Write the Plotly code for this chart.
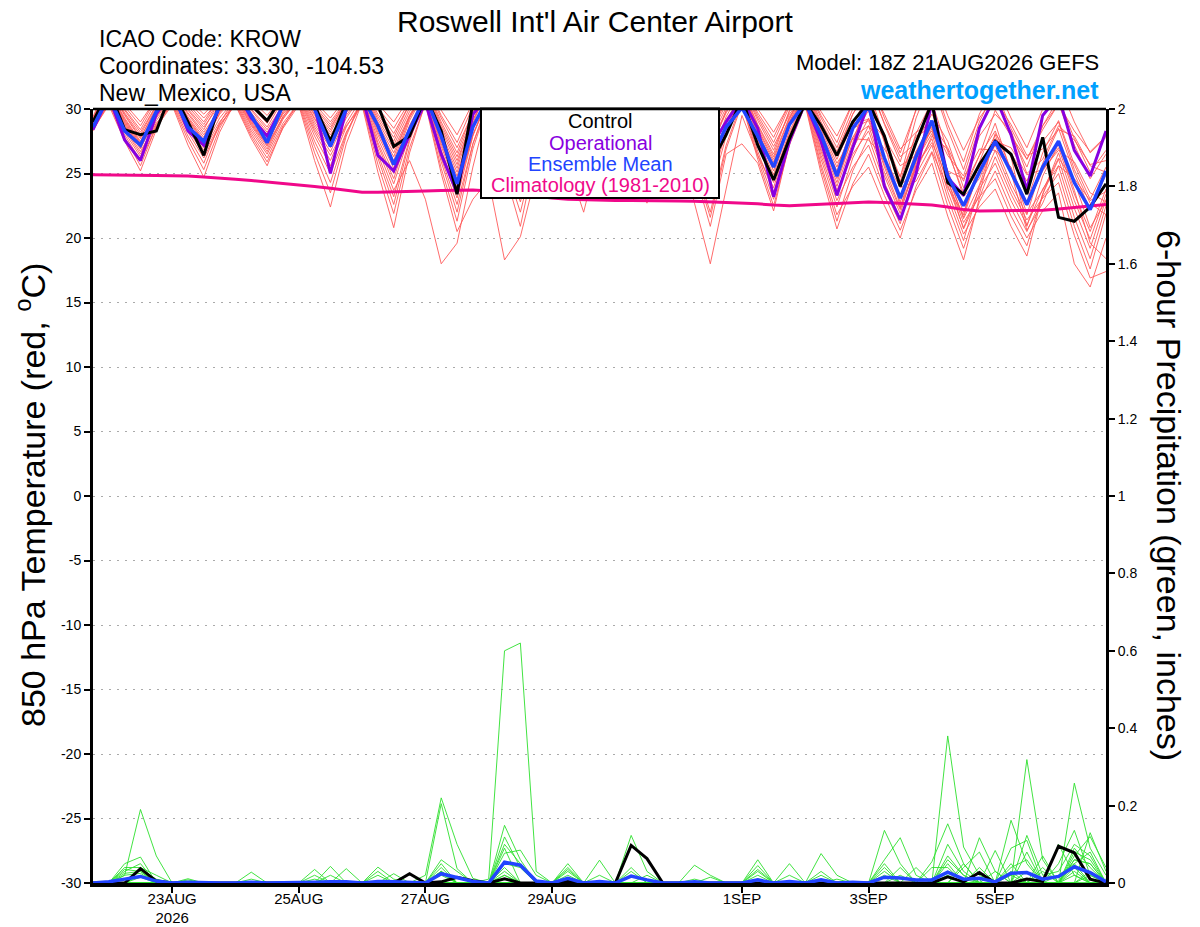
import plotly.graph_objects as go
import pandas as pd

# ---------------- time axis (6-hourly, GEFS 18Z 21AUG2026 run) ----------------
run_start = "2026-08-21 18:00"
n_steps = 65
times = pd.date_range(run_start, periods=n_steps, freq="6h")

# ---------------- 850 hPa temperature (deg C) ----------------
temp_members = [
    [28.4, 30.3,27.5,25.2,28.4, 30.6,28.2,26.2,28.7, 30.4,27.9,25.9,28.5, 30.3,26.0,22.4,27.3, 30.5,26.2,22.6,27.5, 30.8,26.6,23.1,27.9, 31.1,28.0,25.5,29.0, 31.3,28.5,26.3,29.4, 31.5,28.7,26.4,29.1, 30.9,27.4,24.5,28.5, 31.2,28.1,25.5,29.2, 31.7,28.6,26.1,28.9, 29.2,27.8,25.6,26.4, 28.9,27.0,24.4,27.9, 29.6,28.3,25.0,26.1, 28.7,27.6,25.7,26.0],
    [29.0, 30.8,28.5,26.7,28.9, 30.4,27.6,25.3,28.5, 30.7,28.5,26.7,29.2, 30.9,28.4,26.4,28.7, 30.3,25.1,20.8,26.6, 30.5,25.4,21.3,26.9, 30.6,26.3,22.8,27.3, 30.3,25.7,22.0,27.0, 30.4,26.5,23.3,28.0, 31.2,28.2,25.8,28.6, 30.5,26.4,23.0,27.7, 30.8,26.7,23.3,26.9, 29.3,25.7,22.8,26.0, 28.1,24.1,20.8,23.8, 25.8,22.9,20.5,23.2, 25.0,20.9,17.6,21.9],
    [28.8, 31.3,29.1,27.3,29.8, 31.5,29.6,28.0,29.9, 31.1,29.0,27.3,29.8, 31.4,29.3,27.6,30.0, 31.6,29.0,26.9,29.5, 31.2,27.5,24.5,28.9, 31.8,29.5,27.7,30.3, 32.0,29.8,28.0,30.2, 31.7,29.1,26.9,30.0, 32.1,30.2,28.6,30.6, 31.9,29.3,27.1,29.6, 31.3,27.8,24.9,28.6, 30.0,28.1,24.1,25.2, 27.9,26.9,23.2,24.6, 27.5,27.0,24.9,25.3, 26.8,25.9,23.5,22.8],
    [29.2, 31.8,29.7,28.0,30.3, 31.9,30.2,28.8,30.7, 32.0,30.5,29.2,30.7, 31.7,29.8,28.2,30.5, 32.1,30.1,28.5,30.6, 32.0,29.3,27.0,29.7, 31.5,28.9,26.8,29.7, 31.7,29.2,27.1,30.0, 31.9,29.5,27.5,30.1, 31.8,29.5,27.6,30.1, 31.7,28.8,26.5,29.9, 32.1,29.5,27.4,30.5, 32.6,29.3,26.6,29.9, 32.1,28.4,25.3,29.0, 31.5,28.5,26.1,28.7, 30.4,27.2,24.6,26.5],
    [28.3, 30.5,28.0,26.0,28.6, 30.3,27.2,24.7,28.2, 30.6,28.3,26.5,28.9, 30.5,27.1,24.3,28.1, 30.7,26.9,23.7,26.0, 23.0,18.0,19.6,25.5, 30.4,25.2,20.9,26.7, 30.6,27.1,24.2,28.0, 30.5,26.8,23.8,27.7, 27.5,22.7,18.0,23.8, 29.5,26.4,23.9,27.9, 30.5,25.7,21.8,24.0, 25.5,22.5,20.0,24.0, 26.6,22.5,19.2,22.8, 25.2,22.3,20.0,22.1, 23.5,18.0,16.2,20.0],
    [29.3, 32.1,30.2,28.7,30.8, 32.2,30.8,29.6,30.9, 31.8,30.0,28.6,30.7, 32.1,30.4,29.0,30.7, 31.9,29.6,27.8,30.4, 32.2,29.9,28.0,30.5, 32.2,30.5,29.2,30.9, 32.1,30.1,28.4,30.7, 32.2,30.2,28.6,30.6, 32.0,29.9,28.2,30.6, 32.2,30.0,28.2,30.4, 31.9,29.0,26.7,29.6, 31.5,27.8,24.7,29.3, 32.4,28.8,25.9,29.6, 32.0,29.3,27.0,30.0, 32.0,29.0,26.6,27.8],
    [28.7, 31.0,28.8,27.0,29.3, 30.9,28.8,27.0,29.3, 30.8,28.7,26.9,29.4, 31.1,28.8,27.0,29.5, 31.2,28.2,25.7,29.1, 31.4,27.9,25.1,28.6, 30.9,27.4,24.5,28.3, 30.8,27.6,25.0,28.7, 31.1,28.1,25.6,29.1, 31.4,28.7,26.4,29.2, 31.0,27.6,24.9,28.7, 31.2,27.6,24.6,27.8, 29.9,26.2,23.2,26.7, 29.1,25.2,22.0,25.1, 27.2,24.2,21.8,25.8, 28.5,25.0,22.2,24.9],
    [28.9, 31.5,29.3,27.5,29.8, 31.3,29.3,27.6,30.0, 31.6,29.7,28.2,30.0, 31.2,29.0,27.2,29.7, 31.4,28.6,26.3,29.5, 31.7,28.6,26.0,29.2, 31.3,28.5,26.2,29.4, 31.5,28.9,26.7,29.5, 31.3,28.4,26.0,29.4, 31.6,29.1,27.0,29.7, 31.5,28.5,26.1,29.3, 31.5,28.2,25.5,28.5, 29.1,25.5,22.3,26.7, 28.3,25.2,24.6,26.9, 26.8,25.5,21.9,23.7, 26.2,24.4,20.8,22.9],
    [28.5, 30.4,27.8,25.6,28.7, 30.7,28.4,26.5,28.8, 30.3,27.7,25.6,28.6, 30.6,27.5,25.0,28.2, 30.4,25.7,21.9,27.0, 30.4,25.0,20.5,23.0, 24.5,18.3,20.1,25.0, 30.5,26.8,23.8,27.9, 30.7,27.3,24.5,28.0, 30.4,25.2,20.9,26.5, 27.3,25.8,22.1,27.4, 30.9,26.9,23.7,26.5, 28.3,24.8,21.9,25.9, 28.5,24.5,21.2,23.2, 24.6,21.7,19.4,23.4, 26.1,22.3,19.2,23.0],
    [29.4, 32.2,30.4,29.0,30.8, 32.0,30.4,29.0,30.9, 32.1,30.7,29.5,31.1, 32.2,30.6,29.3,30.9, 32.0,29.9,28.1,30.4, 31.9,29.0,26.6,29.8, 32.0,30.0,28.3,30.6, 32.2,30.4,28.9,30.8, 32.1,30.0,28.2,30.4, 31.9,29.7,27.9,30.4, 32.1,29.7,27.8,30.4, 32.2,29.8,27.9,30.5, 32.3,28.8,25.9,30.0, 32.8,29.5,26.8,29.3, 31.0,28.0,25.5,28.7, 30.8,27.7,25.1,26.8],
    [28.8, 31.2,29.0,27.2,29.5, 31.1,29.1,27.4,29.8, 31.4,29.4,27.8,30.0, 31.5,29.5,27.8,29.9, 31.3,28.4,26.0,29.3, 31.5,28.1,25.4,29.1, 31.6,29.1,27.1,29.7, 31.4,28.7,26.5,29.3, 31.2,28.2,25.8,29.3, 31.7,29.3,27.3,29.8, 31.4,28.4,25.9,29.0, 31.1,27.4,24.3,27.8, 28.7,26.9,24.8,27.9, 28.6,24.9,21.5,24.1, 27.7,26.6,24.4,27.5, 29.0,25.3,22.7,21.8],
    [28.6, 30.7,28.4,26.5,29.1, 30.8,28.6,26.8,29.0, 30.5,28.1,26.2,28.7, 30.4,26.6,23.5,27.9, 30.8,27.2,24.2,28.0, 30.6,25.9,22.0,27.3, 30.8,27.1,24.0,28.1, 30.9,27.8,25.3,28.5, 30.6,27.1,24.2,28.0, 30.5,25.6,21.6,26.9, 30.4,26.1,22.5,27.2, 30.3,25.0,20.7,24.2, 26.5,23.3,20.6,23.7, 25.8,21.7,18.3,23.1, 26.3,23.4,21.0,23.8, 25.6,21.6,18.4,22.5],
    [29.1, 31.6,29.5,27.7,30.2, 31.8,30.0,28.6,30.3, 31.5,29.6,28.0,30.3, 31.9,30.1,28.6,30.5, 31.7,29.2,27.2,29.8, 31.6,28.4,25.7,29.4, 31.9,29.8,28.0,30.3, 31.8,29.4,27.4,29.9, 31.6,28.9,26.6,30.0, 32.2,30.4,29.0,30.7, 31.8,29.1,26.8,29.8, 31.8,28.8,26.4,29.6, 31.8,28.9,26.3,27.4, 29.6,27.5,23.9,26.4, 29.9,27.9,26.1,28.4, 30.4,28.3,26.7,27.9],
    [28.7, 30.9,28.7,26.9,29.5, 31.2,29.2,27.5,29.6, 31.0,28.9,27.2,29.4, 30.8,28.2,26.0,28.9, 30.9,27.4,24.6,28.4, 31.0,27.1,23.9,28.0, 30.7,26.7,23.4,28.0, 31.0,28.0,25.6,28.8, 30.9,27.7,25.1,28.6, 31.0,27.7,25.0,28.5, 30.8,27.2,24.3,28.1, 30.6,26.1,22.4,26.2, 28.7,25.1,22.2,25.5, 27.7,23.6,20.3,22.4, 23.8,20.9,18.6,23.4, 26.6,22.9,19.9,23.4],
    [29.2, 31.9,29.9,28.2,30.3, 31.7,29.9,28.4,30.7, 32.2,30.9,29.9,31.0, 31.8,29.9,28.4,30.7, 32.2,30.4,29.0,30.9, 32.1,29.5,27.4,30.2, 32.1,30.2,28.7,30.6, 31.9,29.6,27.7,30.3, 32.0,29.7,27.8,30.0, 31.5,28.9,26.7,29.9, 32.0,29.5,27.4,30.2, 32.0,29.3,27.0,30.0, 32.0,29.6,26.9,28.2, 28.9,26.4,24.8,28.6, 30.7,28.8,26.4,26.9, 28.4,27.9,25.6,25.1],
    [28.5, 30.6,28.2,26.3,28.8, 30.5,27.9,25.8,28.9, 30.9,28.8,27.1,29.3, 30.7,27.9,25.6,28.6, 30.6,26.5,23.2,27.7, 30.7,26.2,22.6,27.3, 30.5,25.8,22.0,27.0, 30.4,26.5,23.3,27.5, 30.3,26.1,22.7,27.4, 30.6,25.9,22.0,27.2, 30.6,26.7,23.5,27.6, 30.4,25.4,21.3,25.2, 27.8,24.3,21.5,24.9, 27.2,23.1,19.8,24.0, 26.8,23.8,21.4,23.1, 24.3,20.2,16.9,17.4],
    [28.9, 31.4,29.2,27.4,29.9, 31.6,29.7,28.2,30.0, 31.2,29.1,27.4,29.7, 31.3,29.2,27.4,29.9, 31.5,28.8,26.6,29.4, 31.3,27.7,24.8,28.6, 31.2,28.3,25.9,29.1, 31.2,28.4,26.1,29.3, 31.4,28.5,26.2,29.1, 31.1,28.0,25.4,28.9, 31.3,28.2,25.7,28.9, 31.0,27.2,24.0,27.4, 31.2,27.4,22.4,25.6, 27.4,24.5,20.7,23.4, 28.1,26.3,20.9,24.8, 27.3,23.7,19.6,18.4],
    [28.8, 31.1,28.9,27.1,29.4, 31.0,28.9,27.2,29.7, 31.3,29.3,27.6,29.6, 31.0,28.6,26.7,29.3, 31.1,28.0,25.4,28.7, 30.9,26.8,23.5,28.0, 31.0,27.7,25.0,28.4, 30.7,27.3,24.6,28.3, 30.8,27.5,24.8,28.3, 30.7,26.7,23.4,27.9, 30.9,27.4,24.6,28.3, 30.7,26.4,22.9,25.5, 27.2,23.8,21.1,25.7, 28.8,24.8,21.6,25.4, 28.0,25.0,22.5,25.2, 27.0,23.4,20.5,23.8],
    [29.0, 31.7,29.6,27.8,30.0, 31.4,29.4,27.8,30.3, 31.9,30.2,28.9,30.8, 32.0,30.2,28.8,30.6, 31.8,29.4,27.5,30.1, 31.8,28.8,26.3,29.5, 31.7,29.3,27.4,29.9, 31.6,29.0,26.9,29.8, 31.8,29.3,27.2,29.7, 31.3,28.4,26.1,29.4, 31.6,28.7,26.3,29.4, 31.4,28.0,25.2,28.8, 31.2,27.5,24.4,28.1, 30.6,26.7,23.5,26.4, 28.3,25.3,22.8,26.6, 29.1,25.7,23.0,25.5],
    [29.1, 32.0,30.0,28.4,30.6, 32.1,30.6,29.3,30.7, 31.7,29.9,28.4,30.3, 31.6,29.6,28.0,29.8, 31.0,27.7,25.0,28.7, 31.1,27.3,24.2,28.5, 31.4,28.7,26.5,29.3, 31.1,28.2,25.9,29.0, 31.0,27.9,25.4,28.6, 30.8,27.1,24.0,28.3, 31.1,27.9,25.2,29.0, 31.6,28.4,25.8,27.7, 27.6,26.2,23.9,24.4, 26.7,23.9,21.8,25.9, 28.9,25.1,20.6,22.7, 25.6,24.6,22.9,23.6],
]

temp_control = [29.0, 31.5,28.4,28.0,28.3, 31.5,29.0,26.4,30.5, 31.8,30.3,29.1,31.0, 31.5,30.3,27.5,30.5, 31.5,30.3,27.1,27.9, 31.0,28.3,23.4,30.5, 31.2,29.0,26.5,29.2, 31.0,28.8,26.0,28.5, 31.0,28.0,24.8,27.5, 30.5,28.0,25.7,28.0, 30.8,27.2,24.5,27.7, 30.5,28.7,26.4,29.0, 30.5,27.9,24.0,27.4, 30.5,24.3,23.4,25.7, 27.5,26.5,23.4,27.8, 21.6,21.3,22.4,24.2]

temp_operational = [28.4, 31.0,27.6,26.0,29.6, 31.5,28.3,27.2,30.2, 31.5,29.3,27.9,30.3, 31.5,30.2,25.0,30.0, 31.0,26.4,25.2,28.0, 30.5,26.5,23.5,29.6, 31.0,28.5,25.5,29.0, 31.5,29.0,26.5,29.0, 31.0,28.5,26.0,28.5, 31.0,28.6,27.0,29.0, 30.8,28.5,23.2,27.5, 30.5,27.5,23.3,27.0, 30.5,24.0,21.4,25.0, 30.5,24.7,23.3,28.5, 31.0,28.0,23.7,29.5, 31.0,26.8,24.8,28.3]

temp_mean = [28.6, 31.0,28.3,27.2,29.8, 31.2,28.6,27.5,30.2, 31.3,29.5,27.4,30.3, 31.2,30.0,27.1,30.0, 31.0,28.7,25.7,28.4, 31.0,27.9,24.2,28.6, 31.0,28.5,26.0,28.8, 31.0,28.5,25.8,28.6, 30.8,28.3,25.6,28.2, 30.6,28.0,26.0,28.6, 30.1,27.9,25.5,28.8, 30.5,28.0,24.8,28.5, 30.2,26.2,23.1,26.3, 29.1,24.8,22.5,25.1, 27.5,25.1,22.6,25.5, 27.5,24.3,22.2,25.2]

temp_climatology = [24.9, 24.9, 24.88, 24.87, 24.85, 24.82, 24.8, 24.72, 24.65, 24.55,
                    24.45, 24.35, 24.25, 24.1, 24.0, 23.85, 23.7, 23.55, 23.55, 23.6,
                    23.62, 23.65, 23.68, 23.7, 23.72, 23.65, 23.5, 23.35, 23.2, 23.1,
                    23.0, 22.95, 22.92, 22.9, 22.9, 22.9, 22.88, 22.86, 22.84, 22.8,
                    22.75, 22.7, 22.65, 22.55, 22.5, 22.55, 22.6, 22.7, 22.75, 22.8,
                    22.75, 22.7, 22.65, 22.55, 22.4, 22.2, 22.1, 22.1, 22.1, 22.1,
                    22.15, 22.25, 22.35, 22.5, 22.6]

# ---------------- 6-hour precipitation (inches) ----------------
precip_members = [
    [0, 0,0.02,0.19,0.07, 0,0,0,0, 0,0,0,0, 0,0,0.043,0, 0,0,0,0, 0,0,0,0, 0,0.149,0.06,0, 0,0,0,0, 0,0.03,0,0, 0,0,0,0, 0,0.035,0,0, 0,0,0,0, 0,0.04,0,0, 0,0.06,0.02,0, 0,0,0.08,0, 0,0.08,0.06,0],
    [0, 0,0.05,0.067,0, 0,0,0,0, 0,0,0,0, 0,0,0,0, 0,0.041,0.01,0, 0,0,0,0, 0,0.09,0,0, 0,0.04,0,0, 0,0,0,0, 0,0,0,0, 0,0,0,0.05, 0,0,0,0, 0,0,0,0, 0.055,0.153,0.05,0, 0,0.05,0,0, 0.05,0.136,0.02,0],
    [0, 0,0.035,0.03,0, 0,0,0,0, 0,0.028,0,0, 0,0,0,0, 0,0,0,0, 0,0.03,0,0, 0,0.02,0,0, 0,0,0,0, 0,0,0,0, 0,0,0,0, 0,0,0,0, 0,0.03,0,0, 0,0,0,0, 0,0,0,0.04, 0,0,0,0.07, 0,0,0.13,0.03],
    [0, 0,0,0,0, 0,0.011,0,0, 0,0,0,0, 0,0.035,0,0, 0,0,0,0, 0,0,0,0, 0,0.01,0,0, 0,0,0,0, 0,0,0,0, 0,0,0,0, 0,0,0,0, 0,0,0,0, 0,0.02,0,0, 0,0,0,0, 0.03,0,0,0, 0.02,0.05,0,0],
    [0, 0,0.04,0.04,0.02, 0,0,0,0, 0,0,0,0, 0,0,0,0, 0,0,0,0, 0.02,0.22,0.10,0.012, 0,0,0,0, 0,0,0,0, 0,0,0.02,0, 0,0.046,0.02,0, 0,0.06,0,0, 0,0,0,0, 0,0.136,0.05,0, 0,0.38,0.093,0.02, 0,0.09,0.11,0, 0,0.258,0.09,0.02],
    [0, 0,0,0,0, 0,0,0,0, 0,0,0,0, 0,0,0,0.037, 0,0,0,0, 0,0,0,0, 0,0,0,0, 0,0.02,0,0, 0,0,0,0, 0,0,0,0, 0,0,0,0, 0,0,0,0, 0,0,0,0, 0,0,0,0, 0,0,0,0, 0,0,0,0.01],
    [0, 0,0,0.02,0, 0,0,0,0, 0,0,0,0, 0,0,0,0, 0,0,0,0, 0,0,0,0, 0,0.077,0.085,0.02, 0,0,0,0, 0,0,0,0, 0,0,0,0, 0,0,0,0, 0,0,0.01,0, 0,0,0,0, 0,0,0.04,0.08, 0,0,0,0.03, 0,0.04,0,0],
    [0, 0,0,0,0, 0,0,0,0, 0,0,0,0, 0,0,0,0, 0,0,0.024,0, 0,0.02,0,0, 0,0,0,0, 0,0.035,0,0, 0,0,0,0, 0,0,0,0, 0,0,0,0, 0,0,0,0, 0,0,0.02,0, 0,0,0,0, 0,0.02,0,0, 0,0,0.03,0],
    [0, 0,0.03,0.05,0, 0,0,0,0, 0,0,0,0, 0,0,0,0, 0,0,0,0, 0,0.205,0.037,0, 0.01,0.60,0.62,0.03, 0,0,0,0.059, 0,0,0,0, 0,0,0.015,0, 0,0.045,0,0, 0,0.076,0.02,0, 0,0,0,0, 0.04,0.04,0,0, 0.084,0,0.319,0.06, 0,0.06,0.05,0],
    [0, 0,0,0,0, 0,0,0,0, 0,0,0,0, 0,0.01,0,0, 0,0,0,0, 0,0,0,0, 0,0,0,0, 0,0,0,0, 0,0,0,0, 0,0,0,0, 0,0,0,0, 0,0,0,0, 0,0,0,0, 0,0,0,0, 0,0,0,0, 0,0,0,0.005],
    [0, 0,0,0,0, 0,0,0,0, 0,0,0,0, 0,0,0,0, 0,0.03,0,0, 0,0,0,0, 0,0.03,0,0, 0,0,0,0, 0,0,0,0, 0,0,0,0, 0,0.03,0,0, 0,0,0,0, 0,0,0,0.04, 0,0,0,0.117, 0.03,0,0,0, 0.1,0.02,0,0],
    [0, 0,0,0.035,0.01, 0,0,0,0, 0,0,0,0, 0,0,0.02,0, 0,0,0,0, 0,0.04,0,0, 0,0.119,0.04,0, 0,0,0,0, 0,0.123,0.03,0, 0,0,0,0, 0,0,0,0, 0,0.02,0,0, 0,0.06,0.117,0.02, 0,0.03,0.01,0, 0,0.162,0.05,0, 0,0.05,0.08,0],
    [0, 0,0,0,0, 0,0,0,0, 0,0,0,0, 0,0,0,0, 0,0,0,0, 0,0,0,0, 0,0,0,0, 0,0.01,0,0, 0,0,0,0, 0,0,0,0, 0,0,0,0, 0,0,0,0, 0,0,0,0, 0,0,0,0, 0,0,0,0, 0,0.02,0,0],
    [0, 0,0.02,0.025,0, 0,0,0,0, 0,0,0,0, 0,0,0,0, 0,0,0,0, 0,0.05,0,0, 0,0.05,0.04,0, 0,0,0,0.02, 0,0,0,0, 0,0,0,0, 0,0.02,0,0, 0,0,0,0, 0,0.03,0,0, 0,0.05,0,0, 0,0,0.123,0.02, 0.03,0.1,0.07,0],
    [0, 0,0,0,0, 0,0.008,0,0, 0,0.01,0,0, 0,0,0,0, 0,0,0,0, 0,0,0,0, 0,0,0,0, 0,0,0,0, 0,0,0,0, 0,0,0,0, 0,0,0,0, 0,0,0,0, 0,0,0,0, 0,0,0,0, 0,0,0,0, 0,0,0,0],
    [0, 0,0.025,0.03,0, 0,0,0,0, 0,0,0,0, 0,0,0,0, 0,0.02,0,0, 0,0.06,0.03,0, 0,0.10,0.05,0, 0,0.05,0,0, 0,0.04,0,0, 0,0,0,0, 0,0,0,0.02, 0,0,0,0, 0,0.05,0,0, 0,0.1,0.03,0, 0,0.04,0.06,0, 0,0.07,0.12,0.04],
    [0, 0,0,0,0, 0,0,0,0, 0,0,0,0, 0,0.02,0,0, 0,0,0,0, 0,0.03,0,0, 0,0.04,0,0, 0,0,0,0, 0,0,0,0, 0,0,0,0, 0,0,0,0, 0,0,0,0, 0,0,0,0, 0,0.02,0,0, 0,0,0.03,0, 0,0.03,0,0],
    [0, 0,0,0.015,0, 0,0,0,0, 0,0,0,0, 0,0,0,0, 0,0,0,0, 0,0.025,0,0, 0,0,0,0, 0,0,0,0, 0,0,0,0, 0,0.01,0,0, 0,0,0,0, 0,0,0,0, 0,0,0.04,0, 0,0.07,0.02,0, 0,0,0,0.04, 0,0.09,0.04,0],
    [0, 0,0,0,0, 0,0,0,0, 0,0,0,0, 0,0,0,0, 0,0,0,0, 0,0,0,0, 0,0.02,0,0, 0,0,0,0, 0,0,0,0, 0,0,0,0, 0,0.01,0,0, 0,0,0,0, 0,0,0,0, 0,0,0,0, 0,0,0,0, 0,0,0.02,0],
    [0, 0,0,0,0, 0,0,0,0, 0,0,0,0, 0,0,0,0, 0,0,0,0, 0,0.03,0,0, 0,0,0,0, 0,0.03,0,0, 0,0,0,0, 0,0,0,0, 0,0,0,0, 0,0.01,0,0, 0,0,0,0, 0,0,0.05,0, 0,0.03,0,0, 0,0.06,0.05,0],
]

precip_control = [0, 0,0,0.037,0.005, 0,0,0,0, 0,0,0,0, 0,0,0,0, 0,0,0,0.024, 0,0.003,0.015,0.006, 0,0.011,0,0, 0,0.004,0,0, 0,0.097,0.063,0, 0,0,0,0, 0,0,0,0, 0,0,0,0, 0,0,0,0, 0,0.016,0.003,0.027, 0,0,0.01,0.004, 0.095,0.078,0.01,0]

precip_mean = [0, 0.003,0.01,0.017,0.005, 0,0.002,0,0, 0,0.002,0,0, 0,0.002,0.003,0.003, 0,0.004,0.003,0.002, 0,0.024,0.014,0.004, 0,0.054,0.046,0.005, 0,0.012,0,0.004, 0,0.018,0.008,0, 0,0.003,0,0, 0,0.008,0,0.004, 0,0.008,0,0.002, 0,0.015,0.013,0.008, 0.008,0.028,0.01,0.012, 0.003,0.025,0.027,0.01, 0.017,0.042,0.027,0.003]

for series in temp_members + precip_members + [temp_control, temp_operational, temp_mean,
                                               temp_climatology, precip_control, precip_mean]:
    assert len(series) == n_steps, len(series)

# ---------------- ticks ----------------
temp_ticks = [-30, -25, -20, -15, -10, -5, 0, 5, 10, 15, 20, 25, 30]
temp_ticktext = ["-30", "-25", "-20", "-15", "-10", "-5", "0", "5", "10", "15", "20", "25", "30"]
precip_ticks = [0, 0.2, 0.4, 0.6, 0.8, 1.0, 1.2, 1.4, 1.6, 1.8, 2.0]
precip_ticktext = ["0", "0.2", "0.4", "0.6", "0.8", "1", "1.2", "1.4", "1.6", "1.8", "2"]
date_ticks = ["2026-08-23", "2026-08-25", "2026-08-27", "2026-08-29",
              "2026-09-01", "2026-09-03", "2026-09-05"]
date_ticktext = ["23AUG<br>2026", "25AUG", "27AUG", "29AUG", "1SEP", "3SEP", "5SEP"]

# ---------------- colours ----------------
RED = "rgb(255,90,90)"
GREEN = "rgb(45,224,45)"
PURPLE = "rgb(136,0,224)"
BLUE = "rgb(34,68,255)"
PINK = "rgb(240,8,138)"
FONT = "Liberation Sans, Arial, Helvetica, sans-serif"

fig = go.Figure()

for m in temp_members:
    fig.add_trace(go.Scatter(x=times, y=m, mode="lines", yaxis="y",
                             line=dict(color=RED, width=0.9), hoverinfo="skip"))
fig.add_trace(go.Scatter(x=times, y=temp_climatology, mode="lines", yaxis="y",
                         line=dict(color=PINK, width=3)))
fig.add_trace(go.Scatter(x=times, y=temp_operational, mode="lines", yaxis="y",
                         line=dict(color=PURPLE, width=3)))
fig.add_trace(go.Scatter(x=times, y=temp_control, mode="lines", yaxis="y",
                         line=dict(color="black", width=3)))
fig.add_trace(go.Scatter(x=times, y=temp_mean, mode="lines", yaxis="y",
                         line=dict(color=BLUE, width=3.5)))

for m in precip_members:
    fig.add_trace(go.Scatter(x=times, y=m, mode="lines", yaxis="y2",
                             line=dict(color=GREEN, width=0.9), hoverinfo="skip"))
fig.add_trace(go.Scatter(x=times, y=precip_control, mode="lines", yaxis="y2",
                         line=dict(color="black", width=3)))
fig.add_trace(go.Scatter(x=times, y=precip_mean, mode="lines", yaxis="y2",
                         line=dict(color=BLUE, width=3.5)))

# page has an 8px body margin; plot area on screen: x 93..1106, y 109..883
OFF = 8
W, H = 1192, 919
L, T = 93 - OFF, 109 - OFF
PW, PH = 1013, 774
R, B = W - L - PW, H - T - PH


def px(sx):
    return (sx - OFF - L) / PW


def py(sy):
    return (H - B - (sy - OFF)) / PH


annotations = [
    dict(text="Roswell Int'l Air Center Airport", x=px(595), y=py(21), xanchor="center",
         yanchor="middle", font=dict(size=30)),
    dict(text="ICAO Code: KROW", x=px(97), y=py(39), xanchor="left", yanchor="middle",
         font=dict(size=23)),
    dict(text="Coordinates: 33.30, -104.53", x=px(97), y=py(66), xanchor="left",
         yanchor="middle", font=dict(size=23)),
    dict(text="New_Mexico, USA", x=px(97), y=py(93), xanchor="left", yanchor="middle",
         font=dict(size=23)),
    dict(text="Model: 18Z 21AUG2026 GEFS", x=px(1101), y=py(63), xanchor="right",
         yanchor="middle", font=dict(size=22)),
    dict(text="<b>weathertogether.net</b>", x=px(1101), y=py(90), xanchor="right",
         yanchor="middle", font=dict(size=25, color="rgb(0,160,255)")),
    # legend lines
    dict(text="Control", x=px(600), y=py(121), xanchor="center", yanchor="middle",
         font=dict(size=20, color="black")),
    dict(text="Operational", x=px(600), y=py(142.5), xanchor="center", yanchor="middle",
         font=dict(size=20, color=PURPLE)),
    dict(text="Ensemble Mean", x=px(600), y=py(164), xanchor="center", yanchor="middle",
         font=dict(size=20, color=BLUE)),
    dict(text="Climatology (1981-2010)", x=px(600), y=py(185.5), xanchor="center",
         yanchor="middle", font=dict(size=20, color=PINK)),
    # axis titles
    dict(text="850 hPa Temperature (red, <sup>o</sup>C)", x=px(31), y=py(495),
         xanchor="center", yanchor="middle", textangle=-90, font=dict(size=34)),
    dict(text="6-hour Precipitation (green, inches)", x=px(1169), y=py(495),
         xanchor="center", yanchor="middle", textangle=90, font=dict(size=34)),
]
for a in annotations:
    a.update(xref="paper", yref="paper", showarrow=False)

shapes = [
    dict(type="rect", xref="paper", yref="paper", x0=px(481), x1=px(719), y0=py(198),
         y1=py(108.5), fillcolor="white", line=dict(color="black", width=2), layer="above"),
    dict(type="line", xref="paper", yref="paper", x0=0, x1=1, y0=1, y1=1,
         line=dict(color="black", width=2.5), layer="above"),
]

fig.update_layout(
    width=W, height=H, autosize=False,
    margin=dict(l=L, r=R, t=T, b=B, pad=0, autoexpand=False),
    paper_bgcolor="white", plot_bgcolor="white",
    font=dict(family=FONT, color="black", size=15),
    showlegend=False,
    annotations=annotations,
    shapes=shapes,
    xaxis=dict(type="date", range=[str(times[0]), str(times[-1])],
               tickmode="array", tickvals=date_ticks, ticktext=date_ticktext,
               ticks="outside", ticklen=6, tickwidth=1.5, tickcolor="black",
               ticklabelstandoff=-7,
               showline=True, linecolor="black", linewidth=3.5, automargin=False,
               showgrid=False, zeroline=False, tickfont=dict(size=15)),
    yaxis=dict(range=[-30, 30], tickmode="array", tickvals=temp_ticks,
               ticktext=temp_ticktext, ticks="outside", ticklen=6, tickwidth=1.5,
               tickcolor="black", showline=True, linecolor="black", linewidth=3,
               automargin=False,
               showgrid=True, gridcolor="rgb(170,170,170)", gridwidth=1.3,
               griddash="2px,6px", zeroline=False, tickfont=dict(size=14)),
    yaxis2=dict(range=[0, 2], overlaying="y", side="right", tickmode="array",
                tickvals=precip_ticks, ticktext=precip_ticktext, ticks="outside",
                ticklen=6, tickwidth=1.5, tickcolor="black", showline=True,
                linecolor="black", linewidth=3, showgrid=False, zeroline=False,
                automargin=False, tickfont=dict(size=14)),
)

fig.write_html("out.html")
